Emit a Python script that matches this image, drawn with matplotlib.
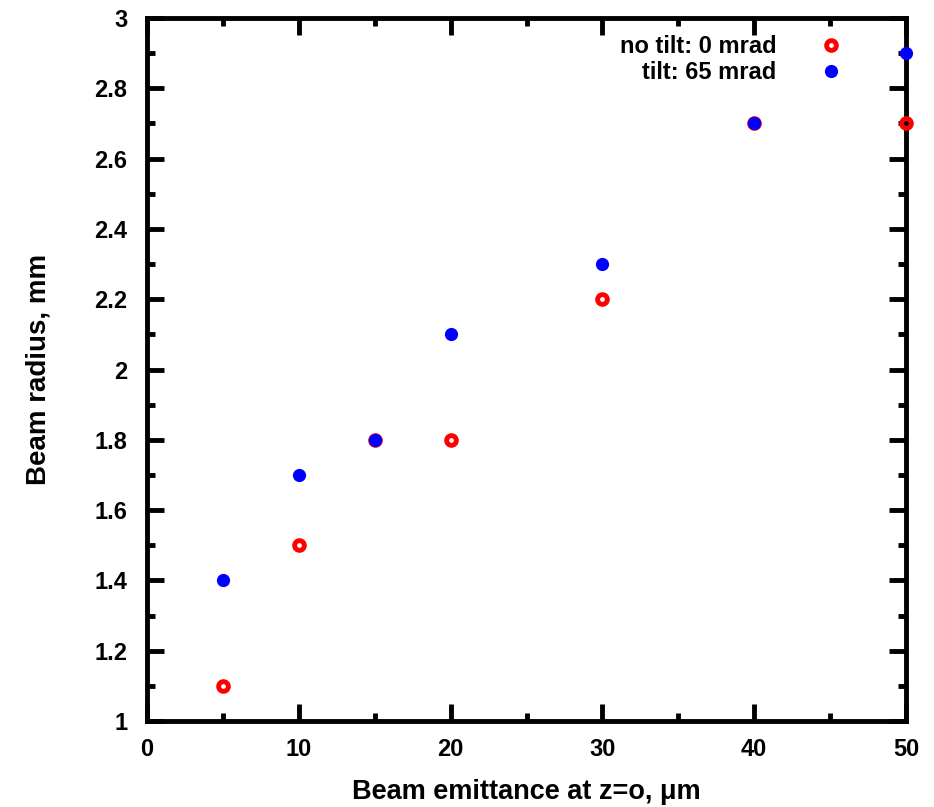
import matplotlib.pyplot as plt
from matplotlib.ticker import MultipleLocator

plt.rcParams['font.family'] = ['Liberation Sans', 'DejaVu Sans']
plt.rcParams['font.weight'] = 'bold'
plt.rcParams['axes.labelweight'] = 'bold'

emittance = [5, 10, 15, 20, 30, 40, 50]
radius_no_tilt = [1.1, 1.5, 1.8, 1.8, 2.2, 2.7, 2.7]
radius_tilt = [1.4, 1.7, 1.8, 2.1, 2.3, 2.7, 2.9]

fig = plt.figure(figsize=(9.34, 8.07), dpi=100)
ax = fig.add_axes([147 / 934, 1 - 721 / 807, 759 / 934, 703 / 807])

ax.plot(emittance, radius_no_tilt, linestyle='none', marker='o', markersize=7,
        markerfacecolor='none', markeredgecolor='red', markeredgewidth=3.5,
        clip_on=False, zorder=3, label='no tilt: 0 mrad')
ax.plot(emittance, radius_tilt, linestyle='none', marker='o', markersize=9.5,
        color='blue', markeredgewidth=0, clip_on=False, zorder=4,
        label='tilt: 65 mrad')

ax.set_xlim(0, 50)
ax.set_ylim(1, 3)
ax.xaxis.set_major_locator(MultipleLocator(10))
ax.xaxis.set_minor_locator(MultipleLocator(5))
ax.yaxis.set_major_locator(MultipleLocator(0.2))
ax.yaxis.set_minor_locator(MultipleLocator(0.1))
ax.yaxis.set_major_formatter(plt.FuncFormatter(lambda v, p: f'{v:g}'))
ax.tick_params(which='both', direction='in', top=True, right=True, width=3.5,
               labelsize=17)
ax.tick_params(axis='x', pad=12)
ax.tick_params(axis='y', pad=14)
ax.tick_params(which='major', length=12)
ax.tick_params(which='minor', length=6)
for s in ax.spines.values():
    s.set_linewidth(3.5)

ax.set_xlabel('Beam emittance at z=o, μm', fontsize=19.5, labelpad=13)
ax.set_ylabel('Beam radius, mm', fontsize=20, labelpad=31)

leg = ax.legend(loc='upper right', frameon=False, markerfirst=False,
                fontsize=17, handletextpad=1.55, borderaxespad=0.4,
                labelspacing=0.15, handlelength=1.5,
                bbox_to_anchor=(0.949, 1.003))

fig.savefig('out.png', dpi=100)
